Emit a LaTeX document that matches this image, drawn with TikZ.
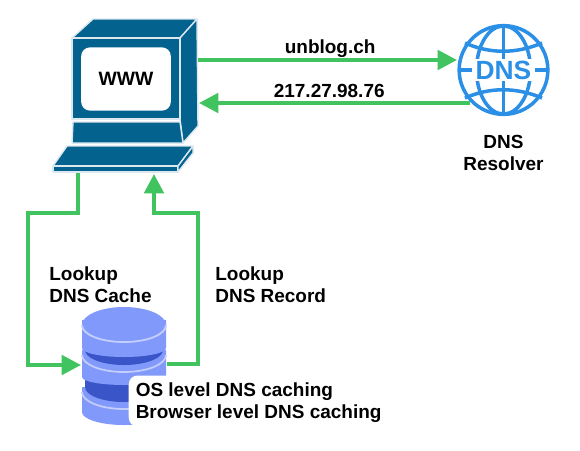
\documentclass[tikz,border=0pt]{standalone}
\usepackage{fontspec}
\setmainfont{Liberation Sans}
\usetikzlibrary{arrows.meta, positioning, calc}
\definecolor{pcblue}{HTML}{04628F}
\definecolor{pcedge}{HTML}{DCE8F0}
\definecolor{linkgreen}{HTML}{41C45F}
\definecolor{globeblue}{HTML}{2B8FE6}
\definecolor{dblight}{HTML}{8199FB}
\definecolor{dbdark}{HTML}{3A55C8}
\definecolor{dbedge}{HTML}{C3CEFC}

\tikzset{
  pcpart/.style={fill=pcblue, draw=pcedge, line width=0.8pt, line join=round},
  link/.style={draw=linkgreen, line width=2.2pt},
  arrowlink/.style={link, -{Triangle[length=11pt, width=11pt]}},
  textlabel/.style={font=\bfseries\fontsize{10.8}{12.5}\selectfont, align=left, inner sep=0pt},
  globeline/.style={draw=globeblue, line width=2pt},
}

\begin{document}
\begin{tikzpicture}[x=0.02cm, y=-0.02cm]
\useasboundingbox (0,0) rectangle (580,450);

% computer
\draw[pcpart] (72,38) -- (93,19) -- (197,19) -- (180,38) -- cycle;
\draw[pcpart] (180,38) -- (197,19) -- (198,126) -- (183,143) -- (180,119) -- cycle;
\draw[pcpart] (72,38) rectangle (180,119);
\draw[pcpart] (73,122) -- (180,122) -- (183,143) -- (72,143) -- cycle;
\draw[pcpart] (67,146) -- (193,146) -- (178,166) -- (53,166) -- cycle;
\draw[pcpart] (53,166) rectangle (178,172);
\draw[pcpart] (178,166) -- (193,146) -- (193,153) -- (178,172) -- cycle;
\node[fill=white, rounded corners=5pt, minimum width=51pt, minimum height=36pt, font=\bfseries\fontsize{11}{13}\selectfont, inner sep=0pt] (www) at (126,79) {WWW};
\coordinate (pcout) at (198,60);
\coordinate (pcin) at (199,103);
\coordinate (keyout) at (78,173);
\coordinate (keyin) at (154,174);

% globe
\node[circle, globeline, minimum size=50.5pt, inner sep=0pt] (dns) at (503.5,70) {};
\draw[globeline] (503.5,26) -- (503.5,114);
\draw[globeline] (dns.center) ellipse (27 and 44);
\draw[globeline] (465,43) .. controls (490,54) and (516,54) .. (542,43);
\draw[globeline] (465,98) .. controls (490,87) and (516,87) .. (542,98);
\draw[globeline] (459,70) -- (548,70);
\node[fill=white, text=globeblue, font=\bfseries\fontsize{15}{15}\selectfont, minimum width=36pt, inner sep=1pt] (dnstext) at (dns.center) {DNS};
\node[textlabel, align=center, below=10.5pt of dns] (resolver) {DNS\\Resolver};
\coordinate (dnsin) at (457,60);
\coordinate (dnsout) at (470,103);

% database
\foreach \y/\h/\b in {392/20/13, 355/22/8, 325/23/9}{
  \fill[dblight] (82,\y-5) -- (82,\y+\h) arc (180:0:42 and \b) -- (166,\y-5) -- cycle;
  \draw[dbedge, line width=1pt] (82,\y) arc (180:0:42 and 17);
  \ifnum\y>325
    \fill[dbdark] (85,\y-22) -- (85,\y-5) arc (180:0:39 and 15) -- (163,\y-22) -- cycle;
  \fi
}
\fill[dblight] (124,325) ellipse (42 and 18);
\draw[dbedge, line width=1pt] (82,325) arc (180:0:42 and 17);
\coordinate (dbin) at (81,365);
\coordinate (dbout) at (167,364);
\node[fill=white, rounded corners=5pt, minimum width=146pt, minimum height=29pt, inner sep=0pt] (dbbox) at (257,401) {};
\node[textlabel, right=0pt of dbbox.west, xshift=4pt, yshift=-1pt] (caching) {OS level DNS caching\\Browser level DNS caching};

% connectors
\draw[arrowlink] (pcout) -- (dnsin) node[midway, above=0.5pt, xshift=1.5pt, textlabel] (query) {unblog.ch};
\draw[arrowlink] (dnsout) -- (pcin) node[midway, above=2pt, xshift=-3pt, textlabel] (answer) {217.27.98.76};
\draw[arrowlink] (keyout) -- (78,213) -- (28,213) -- (28,365) -- (dbin);
\draw[arrowlink] (dbout) -- (198,364) -- (198,213) -- (154,213) -- (keyin);

\node[textlabel, anchor=west] (cache) at (49,285) {Lookup\\DNS Cache};
\node[textlabel, anchor=west] (record) at (215,285) {Lookup\\DNS Record};
\end{tikzpicture}
\end{document}
